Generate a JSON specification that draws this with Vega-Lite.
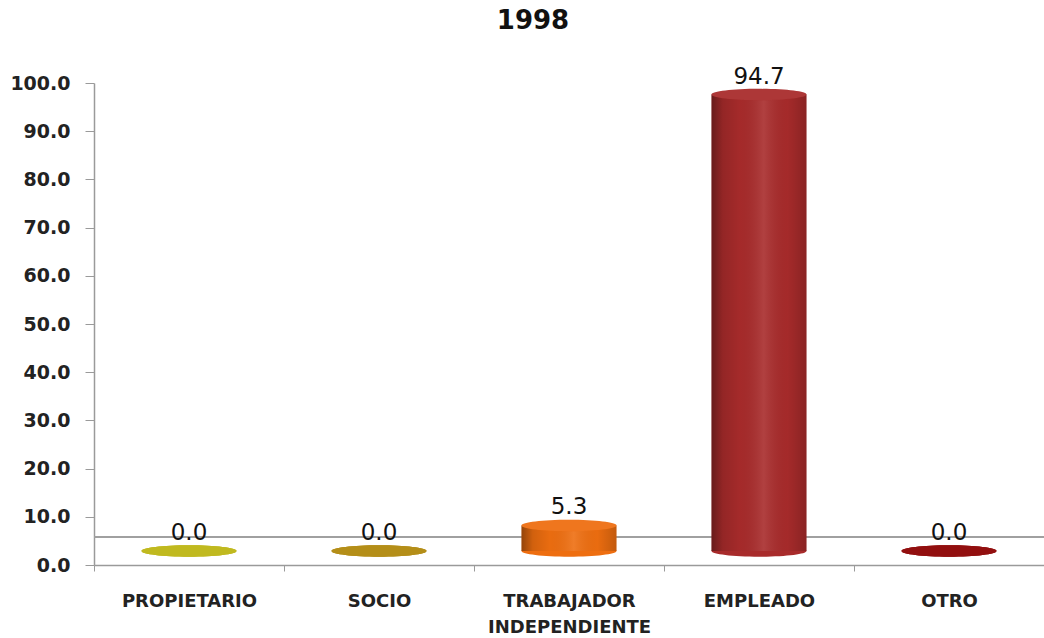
{
  "$schema": "https://vega.github.io/schema/vega-lite/v6.json",
  "autosize": "none",
  "width": 950,
  "height": 482,
  "padding": {"left": 94, "top": 83, "right": 0, "bottom": 73},
  "background": "white",
  "config": {"view": {"stroke": null}},
  "title": {"text": "1998", "font": "DejaVu Sans", "fontSize": 26, "fontWeight": "bold", "color": "#111111", "anchor": "middle", "dx": -36, "offset": 32},
  "data": {"values": [
    {"cat": "PROPIETARIO", "v": 0.0},
    {"cat": "SOCIO", "v": 0.0},
    {"cat": "TRABAJADOR INDEPENDIENTE", "v": 5.3},
    {"cat": "EMPLEADO", "v": 94.7},
    {"cat": "OTRO", "v": 0.0}
  ]},
  "encoding": {
    "x": {"field": "cat", "type": "nominal", "sort": null,
      "scale": {"paddingInner": 0, "paddingOuter": 0},
      "axis": {"title": null, "labelAngle": 0, "labelFont": "DejaVu Sans", "labelFontSize": 18, "labelFontWeight": "bold", "labelColor": "#222222", "labelPadding": 21, "labelLineHeight": 26, "labelExpr": "split(datum.label, ' ')", "tickBand": "extent", "tickSize": 6, "tickColor": "#9a9a9a", "domainColor": "#9a9a9a", "domainWidth": 1.5}}
  },
  "layer": [
    {"mark": {"type": "rule", "color": "#a0a0a0", "strokeWidth": 1.5}, "encoding": {"x": {"value": 0}, "x2": {"value": 950}, "y": {"datum": 5.8, "type": "quantitative"}}},
    {"mark": {"type": "point", "shape": "M-1,0A1,0.12,0,1,0,1,0A1,0.12,0,1,0,-1,0Z", "filled": true, "opacity": 1, "size": 9025, "yOffset": -14},
      "encoding": {"y": {"datum": 0, "type": "quantitative"},
        "color": {"field": "cat", "type": "nominal", "sort": null, "legend": null,
          "scale": {"domain": ["PROPIETARIO", "SOCIO", "TRABAJADOR INDEPENDIENTE", "EMPLEADO", "OTRO"], "range": ["#bdb512", "#b0870a", "#ee6e10", "#a82b2b", "#8c0000"]}}}},
    {"mark": {"type": "bar", "yOffset": -14, "width": {"band": 0.5}},
      "encoding": {
        "y": {"field": "v", "type": "quantitative", "scale": {"domain": [0, 100], "nice": false},
          "axis": {"title": null, "values": [0, 10, 20, 30, 40, 50, 60, 70, 80, 90, 100], "format": ".1f", "grid": false, "labelFont": "DejaVu Sans", "labelFontSize": 19, "labelFontWeight": "bold", "labelColor": "#222222", "labelPadding": 15, "tickSize": 9, "tickColor": "#9a9a9a", "domainColor": "#9a9a9a", "domainWidth": 1.5}},
        "color": {"field": "cat", "type": "nominal", "sort": null, "legend": null}}},
    {"mark": {"type": "bar", "yOffset": -14, "width": {"band": 0.5}, "fill": {"gradient": "linear", "x1": 0, "y1": 0, "x2": 1, "y2": 0, "stops": [{"offset": 0, "color": "rgba(0,0,0,0.38)"}, {"offset": 0.12, "color": "rgba(0,0,0,0.12)"}, {"offset": 0.3, "color": "rgba(0,0,0,0.02)"}, {"offset": 0.55, "color": "rgba(255,255,255,0.1)"}, {"offset": 0.8, "color": "rgba(0,0,0,0.02)"}, {"offset": 1, "color": "rgba(0,0,0,0.18)"}]}},
      "encoding": {"y": {"field": "v", "type": "quantitative"}}},
    {"mark": {"type": "point", "shape": "M-1,0A1,0.12,0,1,0,1,0A1,0.12,0,1,0,-1,0Z", "filled": true, "opacity": 1, "size": 9025, "yOffset": -14},
      "encoding": {"y": {"field": "v", "type": "quantitative"},
        "color": {"field": "cat", "type": "nominal", "sort": null, "legend": null}}},
    {"mark": {"type": "point", "shape": "M-1,0A1,0.12,0,1,0,1,0A1,0.12,0,1,0,-1,0Z", "filled": true, "opacity": 1, "fill": "white", "fillOpacity": 0.06, "size": 9025, "yOffset": -14},
      "encoding": {"y": {"field": "v", "type": "quantitative"}}},
    {"mark": {"type": "text", "baseline": "bottom", "dy": -20, "font": "DejaVu Sans", "fontSize": 23, "color": "#111111"},
      "encoding": {"y": {"field": "v", "type": "quantitative"}, "text": {"field": "v", "type": "quantitative", "format": ".1f"}}}
  ]
}
